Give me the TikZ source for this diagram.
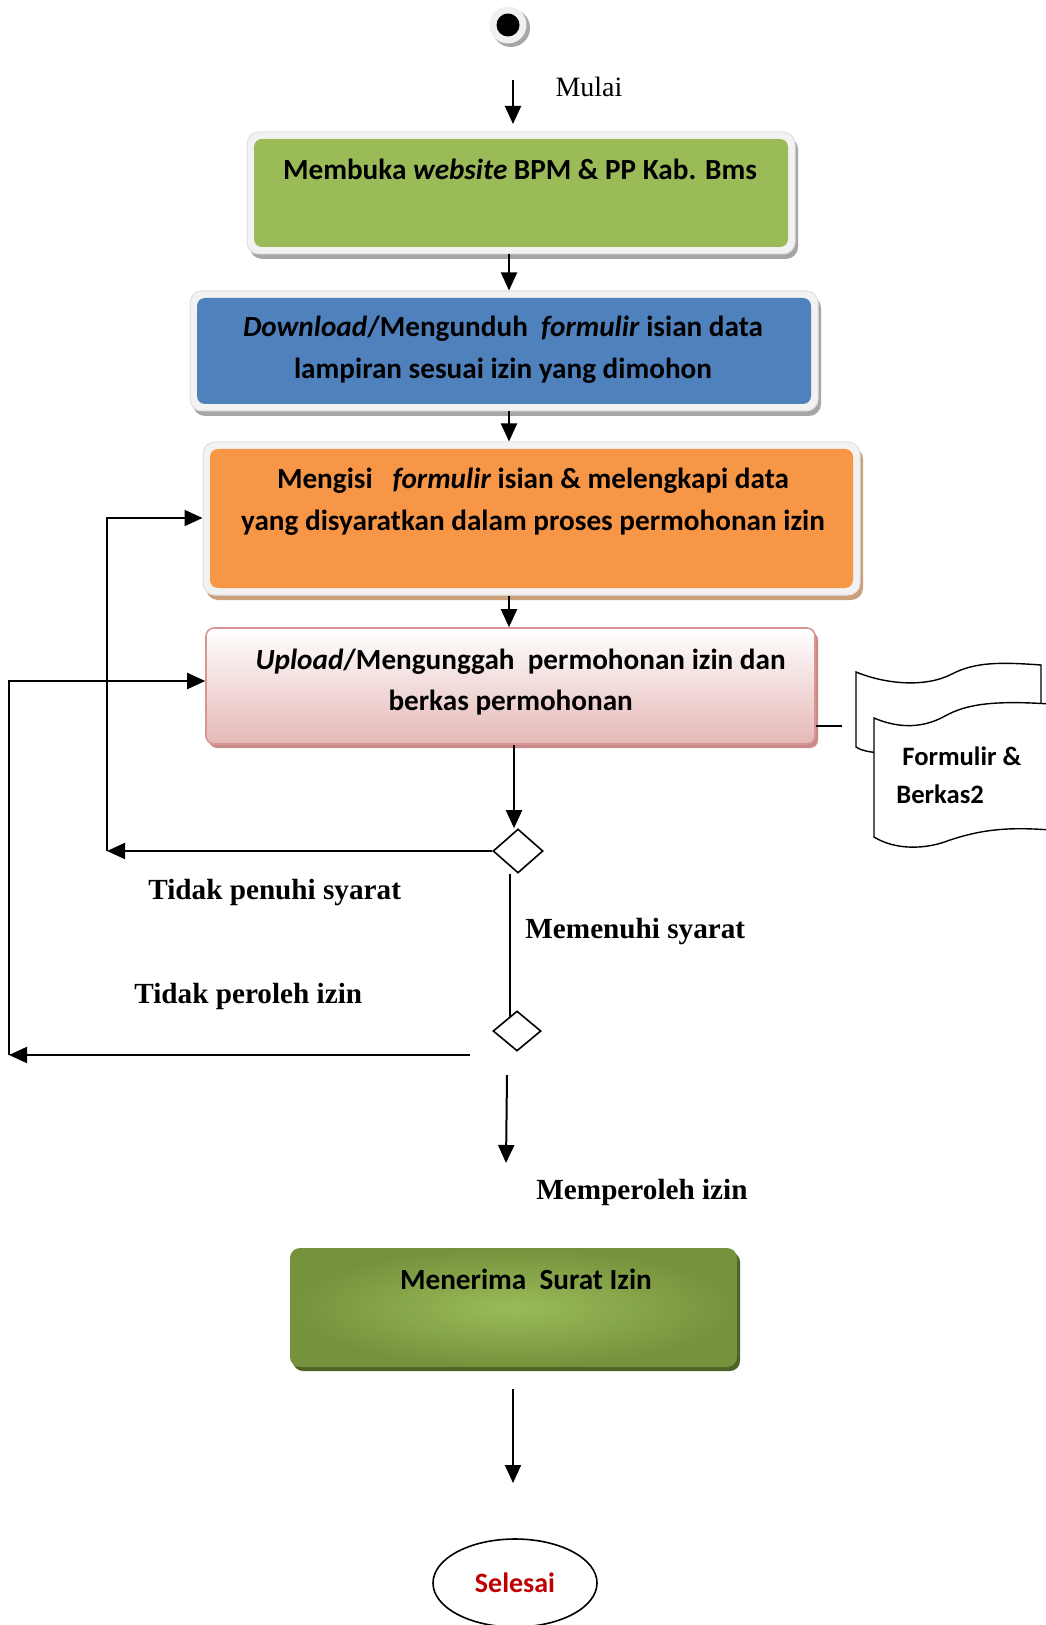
\documentclass[tikz,border=0pt]{standalone}
\usepackage{fontspec}
\setmainfont{Liberation Serif}
\newfontfamily\calib{Carlito}
\usetikzlibrary{shapes.geometric,arrows.meta,fit,calc}
\definecolor{gOne}{HTML}{9BBB59}
\definecolor{bTwo}{HTML}{4F81BD}
\definecolor{oThree}{HTML}{F79646}
\definecolor{pBorder}{HTML}{D99594}
\definecolor{pBottom}{HTML}{E5B8B7}
\definecolor{pShadow}{HTML}{C98B89}
\definecolor{gIn}{HTML}{9BBB59}
\definecolor{gOut}{HTML}{76923C}
\definecolor{gShadow}{HTML}{4F6228}
\definecolor{frameC}{HTML}{F2F2F2}
\definecolor{shGray}{HTML}{A6A6A6}
\definecolor{shOrange}{HTML}{C9A07A}
\definecolor{endRed}{HTML}{C00000}
\newcommand\myPanel[7]{%
  \fill[#7, rounded corners=6pt] (#2-7+3,#3-7+5) rectangle (#4+7+3,#5+7+5);
  \node[fit={(#2-7,#3-7) (#4+7,#5+7)}, framebox] (#1f) {};
  \node[fit={(#2,#3) (#4,#5)}, inner sep=0pt, fill=#6, rounded corners=4pt] (#1) {};
}
\begin{document}
\begin{tikzpicture}[x=0.5pt,y=-0.5pt,
  arr/.style={line width=1pt,-{Triangle[length=9pt,width=8pt]}},
  ln/.style={line width=1pt},
  ctext/.style={font=\calib\fontsize{14.6}{20.75}\selectfont\bfseries, align=center, inner sep=0pt},
  slbl/.style={font=\fontsize{14.6}{18}\selectfont\bfseries, inner sep=0pt, anchor=base west},
  framebox/.style={fill=frameC, draw=black!12, line width=0.5pt, rounded corners=6pt, inner sep=0pt},
  dec/.style={diamond, draw, line width=0.8pt, fill=white, inner sep=0pt},
  docline/.style={draw, line width=0.7pt, fill=white}]
\useasboundingbox (0,0) rectangle (1045,1625);
\fill[white] (0,0) rectangle (1045,1625);

% start
\fill[black!35] (511,28) circle (19);
\fill[black!6] (508,25) circle (18.5);
\node[circle, fill=black, minimum size=11.5pt, inner sep=0pt] (start) at (508,25) {};
\coordinate (m1) at (513,80);
\coordinate (m2) at (513,124);
\draw[arr] (m1) -- (m2);
\node[font=\fontsize{14}{16}\selectfont, inner sep=0pt, anchor=base] (mulai) at (589,97) {Mulai};

% boxes
\myPanel{b1}{254}{139}{788}{247}{gOne}{shGray}
\node[ctext] (b1t) at (520,169) {Membuka \textit{website} BPM \& PP Kab. Bms};

\myPanel{b2}{197}{298}{811}{404}{bTwo}{shGray}
\node[ctext] (b2t) at (503,349.5) {\textit{Download}/Mengunduh\ \ \textit{formulir} isian data\\lampiran sesuai izin yang dimohon};

\myPanel{b3}{210}{449}{853}{588}{oThree}{shOrange}
\node[ctext] (b3t) at (533,501.5) {Mengisi\ \ \ \textit{formulir} isian \& melengkapi data\\yang disyaratkan dalam proses permohonan izin};

\fill[pShadow, rounded corners=4pt] (209,632) rectangle (818,748);
\node[fit={(206,628) (815,744)}, inner sep=0pt, rounded corners=4pt, draw=pBorder, line width=0.8pt, top color=white, bottom color=pBottom] (b4) {};
\node[ctext] (b4t) at (514,682) {\ \ \textit{Upload}/Mengunggah\ \ permohonan izin dan\\berkas permohonan\ \ };

% connectors between boxes
\coordinate (cx) at (509,0);
\draw[arr] (cx |- b1f.south) -- (cx |- b2f.north);
\draw[arr] (cx |- b2f.south) -- (cx |- b3f.north);
\draw[arr] (cx |- b3f.south) -- (cx |- b4.north);

% document
\draw[docline] (856,672) .. controls (885,684) and (925,688) .. (952,674) .. controls (975,662) and (1000,662) .. (1041,665) -- (1041,750) -- (880,753) .. controls (868,752) and (860,750) .. (856,747) -- cycle;
\draw[docline] (874,718) .. controls (895,727) and (920,730) .. (945,716) .. controls (965,705) and (990,700) .. (1050,704) -- (1050,830) .. controls (1000,826) and (975,832) .. (950,840) .. controls (925,850) and (895,850) .. (874,837) -- cycle;
\node[ctext, align=left, anchor=west, font=\calib\fontsize{13.3}{19}\selectfont\bfseries] (docText) at (896,775) {\ Formulir \&\\Berkas2};
\coordinate (docL) at (842,726);
\draw[line width=0.6pt] (b4.east |- docL) -- (docL);

% decisions
\node[dec, minimum width=25pt, minimum height=22pt] (d1) at (518,851) {};
\node[dec, minimum width=24pt, minimum height=20pt] (d2) at (517,1031) {};
\coordinate (cx2) at (514,0);
\draw[arr] (cx2 |- b4.south) -- (cx2 |- d1.north);
\coordinate (lp1) at (107,851);
\coordinate (lp1t) at (107,518);
\draw[arr] (d1.west) -- (lp1);
\draw[arr] (lp1) -- (lp1t) -- (lp1t -| b3f.west);
\coordinate (cx3) at (510,0);
\draw[ln] (cx3 |- d1.south) -- ($(cx3 |- d2.center)+(0,-14)$);
\coordinate (ln2s) at (470,1055);
\coordinate (lp2) at (9,1055);
\coordinate (lp2t) at (9,681);
\draw[arr] (ln2s) -- (lp2);
\draw[arr] (lp2) -- (lp2t) -- (lp2t -| b4.west);
\coordinate (a3s) at (507,1075);
\coordinate (a3e) at (506,1163);
\draw[arr] (a3s) -- (a3e);

% labels
\node[slbl] (l1) at (148,899) {Tidak penuhi syarat};
\node[slbl] (l2) at (525,938) {Memenuhi syarat};
\node[slbl] (l3) at (134,1003) {Tidak peroleh izin};
\node[slbl] (l4) at (536,1199) {Memperoleh izin};

% final box
\fill[gShadow, rounded corners=5pt] (293,1252) rectangle (740,1371);
\node[fit={(290,1248) (737,1367)}, inner sep=0pt, rounded corners=5pt, inner color=gIn, outer color=gOut] (b5) {};
\node[ctext] (b5t) at (526,1279) {Menerima\ \ Surat Izin};
\coordinate (a4s) at (513,1389);
\coordinate (a4e) at (513,1483);
\draw[arr] (a4s) -- (a4e);

% end
\node[ellipse, draw, line width=0.8pt, minimum width=82pt, minimum height=44pt, inner sep=0pt, text=endRed, font=\calib\fontsize{14}{16}\selectfont\bfseries] (end) at (515,1583) {Selesai};
\end{tikzpicture}
\end{document}
